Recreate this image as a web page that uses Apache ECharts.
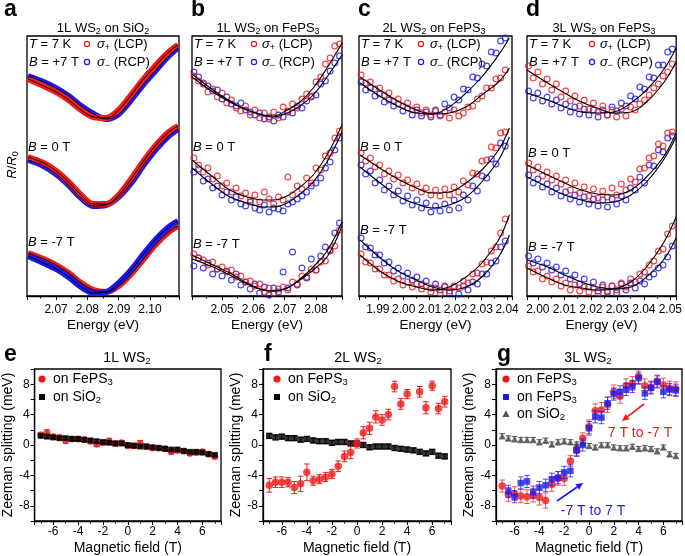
<!DOCTYPE html>
<html><head><meta charset="utf-8">
<script src="https://cdn.jsdelivr.net/npm/echarts/dist/echarts.min.js"></script>
<style>html,body{margin:0;padding:0;background:#fff}#c{width:685px;height:556px}</style>
</head><body><div id="c"></div>
<script>
// ---------------- DATA ----------------
// Panel a (1L WS2 on SiO2): dense spectra, values in arbitrary offset units
const aE = [2.061,2.066,2.070,2.074,2.078,2.082,2.086,2.090,2.094,2.098,2.102,2.106,2.109];
const aRed_p7  = [217,210,204,196,186,179,178,186,201,217,231,244,251];
const aBlue_p7 = [220,214,208,200,190,182,177,182,196,212,226,240,248];
const aRed_0   = [139,133,125,114,101,92,92,101,117,135,151,164,170];
const aBlue_0  = [136,130,122,111,98,90,91,99,113,131,147,160,167];
const aRed_m7  = [43,37,31,23,13,6,4,10,22,37,52,64,70];
const aBlue_m7 = [40,33,27,19,9,3,4,13,26,42,57,69,75];

// Panel b (1L WS2 on FePS3)
const bE = [2.0410,2.0425,2.0440,2.0455,2.0470,2.0485,2.0500,2.0515,2.0530,2.0545,2.0560,2.0575,2.0590,2.0605,2.0620,2.0635,2.0650,2.0665,2.0680,2.0695,2.0710,2.0725,2.0740,2.0755,2.0770,2.0785,2.0800,2.0815,2.0830,2.0845,2.0860,2.0875];
const bRed_p7  = [220,215,212,204,207,199,203,193,196,188,185,190,181,186,178,183,177,184,178,189,185,192,188,197,202,200,214,219,232,238,250,252];
const bBlue_p7 = [224,219,213,210,205,206,197,199,192,190,193,186,184,181,183,177,179,175,181,179,184,183,190,188,195,199,201,212,215,225,233,240];
const bRed_0   = [138,131,124,128,117,120,110,113,104,108,100,103,96,101,94,104,97,92,99,96,119,101,110,107,118,113,128,126,140,143,158,165];
const bBlue_0  = [124,127,115,117,108,110,101,104,96,99,92,90,94,88,86,91,84,88,87,85,92,94,97,100,104,110,113,118,128,134,146,158];
const bRed_m7  = [42,38,36,31,34,27,29,24,26,19,20,14,15,10,12,4,8,3,7,9,6,14,12,20,19,27,26,34,35,45,50,66];
const bBlue_m7 = [30,38,28,33,22,27,20,25,16,22,11,14,7,12,3,9,1,8,4,24,8,44,11,28,18,37,26,40,49,46,63,73];
const bFitE = [2.0404,2.0471,2.0525,2.0580,2.0631,2.0663,2.0708,2.0749,2.0791,2.0835,2.0883];
const bFitRed_p7  = [219,204,194,186,181,180,186,194,208,228,253];
const bFitBlue_p7 = [222,206,195,186,181,179,183,190,201,219,241];
const bFitRed_0   = [136,119,106,99,96,96,100,109,121,141,171];
const bFitBlue_0  = [128,111,99,93,89,89,93,102,114,134,164];
const bFitRed_m7  = [41,31,23,13,6,5,8,16,26,39,70];
const bFitBlue_m7 = [37,29,21,12,6,5,8,17,29,45,74];

// Panel c (2L WS2 on FePS3)
const cE = [1.9835,1.9853,1.9871,1.9889,1.9907,1.9925,1.9943,1.9961,1.9979,1.9997,2.0015,2.0033,2.0051,2.0069,2.0087,2.0105,2.0123,2.0141,2.0159,2.0177,2.0195,2.0213,2.0231,2.0249,2.0267,2.0285,2.0303,2.0321,2.0339,2.0357,2.0375,2.0393];
const cRed_p7  = [221,213,214,207,208,201,203,195,197,190,193,186,189,183,186,181,185,180,184,178,186,180,183,189,190,197,200,208,208,217,218,226];
const cBlue_p7 = [214,206,208,200,202,194,196,190,192,185,188,181,186,180,184,179,186,181,192,188,199,196,207,206,219,218,232,230,244,243,255,258];
const cRed_0   = [143,135,138,129,131,122,125,117,121,113,116,108,112,104,108,101,106,100,107,101,109,104,115,111,123,122,135,136,149,148,163,164];
const cBlue_0  = [131,122,125,113,116,106,110,101,105,95,100,91,96,88,93,84,90,85,92,86,96,88,101,96,110,105,120,118,137,132,153,150];
const cRed_m7  = [42,34,33,27,27,21,21,15,17,11,14,9,12,7,10,4,8,3,9,5,10,8,15,13,22,23,32,34,45,49,63,77];
const cBlue_m7 = [58,49,48,41,41,33,34,25,28,20,23,16,19,12,15,8,12,6,10,3,9,2,10,6,14,12,22,22,33,35,49,55];
const cFitE = [1.9831,1.9919,1.9984,2.0049,2.0111,2.0176,2.0241,2.0302,2.0367,2.0409];
const cFitRed_p7  = [219,204,194,186,182,183,189,201,214,228];
const cFitBlue_p7 = [213,198,189,183,182,189,203,219,241,258];
const cFitRed_0   = [141,126,116,108,103,104,113,126,146,168];
const cFitBlue_0  = [129,111,99,92,88,91,99,114,136,159];
const cFitRed_m7  = [41,23,14,9,6,9,19,33,56,81];
const cFitBlue_m7 = [56,36,24,16,9,6,9,19,39,61];

// Panel d (3L WS2 on FePS3)
const dE = [1.99650,1.99825,2.00000,2.00175,2.00350,2.00525,2.00700,2.00875,2.01050,2.01225,2.01400,2.01575,2.01750,2.01925,2.02100,2.02275,2.02450,2.02625,2.02800,2.02975,2.03150,2.03325,2.03500,2.03675,2.03850,2.04025,2.04200,2.04375,2.04550,2.04725,2.04900,2.05075];
const dRed_p7  = [230,218,224,212,217,206,212,199,205,195,200,190,196,187,193,184,190,181,186,179,187,180,189,186,192,196,201,208,212,220,224,232];
const dBlue_p7 = [205,198,203,195,199,192,196,188,192,184,189,182,187,181,186,179,186,181,189,185,193,190,200,197,209,207,219,218,231,231,244,247];
const dRed_0   = [133,126,129,120,124,116,120,112,116,106,113,103,109,100,107,98,105,99,108,101,112,106,117,114,127,128,138,140,152,150,163,164];
const dBlue_0  = [121,113,117,109,112,104,108,100,104,97,101,94,99,92,97,90,96,89,97,92,100,96,108,106,119,113,131,130,146,144,158,160];
const dRed_m7  = [30,24,25,17,20,14,17,10,13,6,11,5,9,4,8,3,9,5,10,6,13,9,17,14,22,24,31,35,45,47,62,70];
const dBlue_m7 = [40,33,37,29,33,26,29,21,25,17,21,12,17,9,14,5,11,4,10,3,12,6,13,8,15,12,19,22,28,31,39,50];
const dFitE = [1.9959,2.0037,2.0101,2.0164,2.0224,2.0287,2.0351,2.0410,2.0474,2.0522];
const dFitRed_p7  = [226,213,203,194,188,183,184,194,213,234];
const dFitBlue_p7 = [203,196,189,184,183,184,193,206,226,248];
const dFitRed_0   = [131,121,113,106,102,101,106,119,139,163];
const dFitBlue_0  = [119,109,101,96,93,94,101,114,136,159];
const dFitRed_m7  = [28,18,11,8,6,7,14,29,53,79];
const dFitBlue_m7 = [36,29,21,14,9,7,9,19,36,58];

// Zeeman splitting panels
const FIELD = [-7,-6.5,-6,-5.5,-5,-4.5,-4,-3.5,-3,-2.5,-2,-1.5,-1,-0.5,0,0.5,1,1.5,2,2.5,3,3.5,4,4.5,5,5.5,6,6.5,7];
const eFe    = [1.3,1.6,1.1,1.0,0.6,0.8,0.8,0.7,0.5,0.1,0.3,0.5,0.2,0.3,-0.1,-0.1,0.2,-0.2,-0.4,-0.4,-0.5,-0.9,-0.7,-0.8,-1.1,-1.0,-0.9,-1.2,-1.5];
const eFeErr = [0.3,0.4,0.3,0.3,0.4,0.3,0.3,0.3,0.3,0.3,0.3,0.4,0.3,0.3,0.3,0.3,0.4,0.3,0.3,0.3,0.3,0.3,0.3,0.3,0.3,0.3,0.3,0.3,0.3];
const eSi    = [1.2,1.1,1.0,0.9,0.9,0.8,0.8,0.7,0.6,0.5,0.4,0.3,0.2,0.2,0.0,-0.1,-0.2,-0.2,-0.3,-0.4,-0.5,-0.6,-0.6,-0.8,-0.9,-0.9,-1.0,-1.2,-1.3];
const eSiErr = [0.2,0.2,0.2,0.2,0.2,0.2,0.2,0.2,0.2,0.2,0.2,0.2,0.2,0.2,0.2,0.2,0.2,0.2,0.2,0.2,0.2,0.2,0.2,0.2,0.2,0.2,0.2,0.2,0.2];

const fFeField = [-7,-6.5,-6,-5.5,-5,-4.5,-4,-3.5,-3,-2.5,-2,-1.5,-1,-0.5,0,0.5,1,1.5,2,2.5,3,3.5,4,5,5.5,6,6.5,7];
const fFe    = [-5.3,-4.9,-4.9,-4.9,-5.6,-5.1,-3.6,-4.7,-4.5,-4.2,-3.8,-2.8,-1.5,-1.0,0.2,1.6,2.2,3.7,3.3,4.0,7.7,5.4,6.7,7.0,4.9,7.8,4.8,5.7];
const fFeErr = [0.9,0.7,0.7,0.6,0.8,1.0,1.1,0.6,0.6,0.6,0.6,0.7,0.7,0.8,0.6,0.8,0.8,0.8,0.7,0.7,0.7,0.7,0.6,0.7,0.8,0.6,0.7,0.7];
const fSi    = [1.2,1.0,1.1,0.9,0.9,0.7,0.8,0.6,0.5,0.5,0.3,0.4,0.4,0.2,0.2,0.0,-0.3,-0.2,-0.2,-0.2,-0.4,-0.5,-0.6,-0.7,-0.9,-1.1,-0.9,-1.4,-1.5];
const fSiErr = [0.3,0.3,0.3,0.3,0.3,0.3,0.3,0.3,0.3,0.3,0.3,0.3,0.3,0.3,0.3,0.3,0.3,0.3,0.3,0.3,0.3,0.3,0.3,0.3,0.3,0.3,0.3,0.3,0.3];

const gDown    = [-5.4,-6.5,-6.4,-6.7,-6.8,-6.6,-6.9,-7.3,-5.2,-4.4,-4.4,-2.1,-0.7,0.9,2.4,4.5,4.6,5.3,7.0,6.4,7.8,8.1,9.0,7.8,7.6,8.4,7.9,7.5,7.4];
const gDownErr = [0.8,0.9,0.9,0.9,0.9,0.9,1.0,1.0,0.9,0.9,0.9,0.7,0.7,0.7,0.9,0.9,1.0,1.0,0.9,0.9,0.9,0.9,0.9,0.9,0.8,0.8,0.9,0.9,0.9];
const gUpField = [-6.5,-6,-5.5,-5,-4.5,-4,-3.5,-3,-2.5,-2,-1.5,-1,-0.5,0,0.5,1,1.5,2,2.5,3,3.5,4,4.5,5,5.5,6,6.5,7];
const gUp      = [-6.1,-6.8,-5.0,-4.8,-6.2,-5.6,-5.3,-4.5,-4.3,-3.6,-3.4,-0.7,0.0,2.2,3.7,3.6,5.5,6.7,7.0,7.3,7.7,8.8,6.8,7.5,8.3,7.0,7.3,7.2];
const gUpErr   = [0.8,0.8,0.8,0.8,0.8,0.8,0.8,0.8,0.8,0.8,0.8,0.8,0.8,0.9,0.8,0.8,0.8,0.8,0.8,0.8,0.8,0.8,0.8,0.8,0.8,0.8,0.8,0.8];
const gSi      = [1.2,0.9,0.8,0.7,0.7,0.7,0.4,0.6,0.1,0.4,0.5,0.4,0.1,0.3,-0.1,-0.3,0.0,0.0,-0.3,-0.4,-0.4,-0.2,-0.5,-0.4,-0.5,-0.8,-0.3,-1.2,-1.4];
const gSiErr   = [0.3,0.3,0.3,0.3,0.3,0.3,0.3,0.3,0.3,0.3,0.3,0.3,0.3,0.3,0.3,0.3,0.3,0.3,0.3,0.3,0.3,0.3,0.3,0.3,0.3,0.3,0.3,0.3,0.3];

const E_RANGES = [[2.0607,2.1093],[2.0404,2.0883],[1.9827,2.0419],[1.9959,2.0522]];
const B_RANGE = [-7.5, 7.5];
const Z_RANGE = [-10, 10];

// ---------------- CHART ----------------
const FONT = "'Liberation Sans', Arial, Helvetica, sans-serif";
const RED = '#f01a1a', BLUE = '#1a1af0', GRAY = '#555555';
const chart = echarts.init(document.getElementById('c'), null, {renderer:'canvas'});

const gridPos = [
  {left:27, top:36, width:152, height:260},
  {left:192, top:36, width:150, height:260},
  {left:359, top:36, width:153, height:260},
  {left:527, top:36, width:151, height:260},
  {left:31, top:369, width:190, height:152},
  {left:263, top:369, width:188, height:152},
  {left:496, top:369, width:187, height:152}
];
const grids = gridPos.map(g => Object.assign({show:true, borderColor:'#000', borderWidth:1.3, backgroundColor:'rgba(0,0,0,0)'}, g));

const lblStyle = {color:'#000', fontSize:12, fontFamily:FONT};
const xAxes = [], yAxes = [];
E_RANGES.forEach((r, i) => {
  xAxes.push({type:'value', gridIndex:i, min:r[0], max:r[1], splitNumber:5,
    name:'Energy (eV)', nameLocation:'middle', nameGap:22,
    nameTextStyle:{color:'#000', fontSize:13.5, fontFamily:FONT},
    axisLine:{onZero:false, lineStyle:{color:'#000', width:1.3}},
    axisTick:{length:4, lineStyle:{color:'#000'}},
    minorTick:{show:true, splitNumber:2, length:2.5, lineStyle:{color:'#000'}},
    splitLine:{show:false}, minorSplitLine:{show:false},
    axisLabel:Object.assign({margin:8, formatter: v => Math.abs(v*100 - Math.round(v*100)) < 1e-6 ? v.toFixed(2) : ''}, lblStyle)});
  yAxes.push({type:'value', gridIndex:i, min:0, max:260, show:false});
});
for (let i = 4; i < 7; i++) {
  xAxes.push({type:'value', gridIndex:i, min:B_RANGE[0], max:B_RANGE[1], splitNumber:7,
    name:'Magnetic field (T)', nameLocation:'middle', nameGap:20,
    nameTextStyle:{color:'#000', fontSize:14, fontFamily:FONT},
    axisLine:{onZero:false, lineStyle:{color:'#000', width:1.3}},
    axisTick:{length:4, lineStyle:{color:'#000'}},
    minorTick:{show:true, splitNumber:2, length:2.5, lineStyle:{color:'#000'}},
    splitLine:{show:false}, minorSplitLine:{show:false},
    axisLabel:Object.assign({margin:5, formatter: v => Math.abs(v - Math.round(v)) < 1e-9 ? String(Math.round(v)) : ''}, lblStyle)});
  yAxes.push({type:'value', gridIndex:i, min:Z_RANGE[0], max:Z_RANGE[1], interval:2,
    name:'Zeeman splitting (meV)', nameLocation:'middle', nameGap:18, nameRotate:90,
    nameTextStyle:{color:'#000', fontSize:14, fontFamily:FONT},
    axisLine:{onZero:false, lineStyle:{color:'#000', width:1.3}},
    axisTick:{length:4, lineStyle:{color:'#000'}},
    splitLine:{show:false},
    axisLabel:Object.assign({margin:5, formatter: v => (Math.round(v) % 4 === 0) ? String(Math.round(v)) : ''}, lblStyle)});
}

const pairs = (xs, ys) => xs.map((x, i) => [x, ys[i]]);
const series = [];
function band(g, xs, ys, color) {
  series.push({type:'line', xAxisIndex:g, yAxisIndex:g, data:pairs(xs, ys), smooth:0.35, symbol:'none',
    lineStyle:{color, width:6}, z:2, silent:true});
}
function fit(g, xs, ys, w) {
  series.push({type:'line', xAxisIndex:g, yAxisIndex:g, data:pairs(xs, ys), smooth:0.4, symbol:'none',
    lineStyle:{color:'#000', width:w || 1.1}, z:5, silent:true});
}
function pts(g, xs, ys, color) {
  series.push({type:'scatter', xAxisIndex:g, yAxisIndex:g, data:pairs(xs, ys), symbol:'circle', symbolSize:5.8,
    itemStyle:{color:'rgba(0,0,0,0)', borderColor:color, borderWidth:1.2}, z:3, silent:true});
}
function errBars(g, xs, ys, errs, color, z) {
  series.push({type:'custom', xAxisIndex:g, yAxisIndex:g, z, silent:true,
    data: xs.map((x, i) => [x, ys[i] - errs[i], ys[i] + errs[i]]),
    encode:{x:0, y:[1, 2]},
    renderItem(params, api) {
      const x = api.value(0);
      const lo = api.coord([x, api.value(1)]), hi = api.coord([x, api.value(2)]);
      const w = 2.8, st = {stroke:color, lineWidth:1};
      return {type:'group', children:[
        {type:'line', shape:{x1:lo[0], y1:lo[1], x2:hi[0], y2:hi[1]}, style:st},
        {type:'line', shape:{x1:lo[0]-w, y1:lo[1], x2:lo[0]+w, y2:lo[1]}, style:st},
        {type:'line', shape:{x1:hi[0]-w, y1:hi[1], x2:hi[0]+w, y2:hi[1]}, style:st}]};
    }});
}
function marks(g, xs, ys, symbol, size, color, z) {
  series.push({type:'scatter', xAxisIndex:g, yAxisIndex:g, data:pairs(xs, ys), symbol, symbolSize:size,
    itemStyle:{color}, z, silent:true});
}

// panel a
band(0, aE, aBlue_p7, BLUE); band(0, aE, aRed_p7, RED);
band(0, aE, aBlue_0, BLUE);  band(0, aE, aRed_0, RED);
band(0, aE, aRed_m7, RED);   band(0, aE, aBlue_m7, BLUE);
[aRed_p7, aBlue_p7, aRed_0, aBlue_0, aRed_m7, aBlue_m7].forEach(ys => fit(0, aE, ys, 0.9));
// panels b-d
const spectra = [
  [1, bE, [bRed_p7, bRed_0, bRed_m7], [bBlue_p7, bBlue_0, bBlue_m7], bFitE, [bFitRed_p7, bFitBlue_p7, bFitRed_0, bFitBlue_0, bFitRed_m7, bFitBlue_m7]],
  [2, cE, [cRed_p7, cRed_0, cRed_m7], [cBlue_p7, cBlue_0, cBlue_m7], cFitE, [cFitRed_p7, cFitBlue_p7, cFitRed_0, cFitBlue_0, cFitRed_m7, cFitBlue_m7]],
  [3, dE, [dRed_p7, dRed_0, dRed_m7], [dBlue_p7, dBlue_0, dBlue_m7], dFitE, [dFitRed_p7, dFitBlue_p7, dFitRed_0, dFitBlue_0, dFitRed_m7, dFitBlue_m7]]
];
spectra.forEach(([g, xs, reds, blues, fe, fits]) => {
  blues.forEach(ys => pts(g, xs, ys, BLUE));
  reds.forEach(ys => pts(g, xs, ys, RED));
  fits.forEach(ys => fit(g, fe, ys));
});
// panel e
errBars(4, FIELD, eFe, eFeErr, RED, 3); marks(4, FIELD, eFe, 'circle', 7, RED, 4);
errBars(4, FIELD, eSi, eSiErr, '#000', 5); marks(4, FIELD, eSi, 'rect', 6, '#000', 6);
// panel f
errBars(5, FIELD, fSi, fSiErr, '#000', 3); marks(5, FIELD, fSi, 'rect', 6.5, '#000', 4);
errBars(5, fFeField, fFe, fFeErr, RED, 5); marks(5, fFeField, fFe, 'circle', 7.5, RED, 6);
// panel g
errBars(6, FIELD, gSi, gSiErr, GRAY, 3); marks(6, FIELD, gSi, 'triangle', 7, GRAY, 4);
errBars(6, FIELD, gDown, gDownErr, 'rgba(240,26,26,0.75)', 5); marks(6, FIELD, gDown, 'circle', 7.5, RED, 6);
errBars(6, gUpField, gUp, gUpErr, 'rgba(26,26,240,0.75)', 7); marks(6, gUpField, gUp, 'rect', 6.5, BLUE, 8);

// ---------------- TEXT / ANNOTATIONS ----------------
const rich = {
  n:{fontSize:13, lineHeight:16, fontFamily:FONT, color:'#000'},
  i:{fontSize:13, lineHeight:16, fontFamily:FONT, fontStyle:'italic', color:'#000'},
  s:{fontSize:9, lineHeight:9, fontFamily:FONT, verticalAlign:'bottom', color:'#000'},
  N:{fontSize:14, lineHeight:17, fontFamily:FONT, color:'#000'},
  S:{fontSize:9.5, lineHeight:9, fontFamily:FONT, verticalAlign:'bottom', color:'#000'}
};
const G = [];
function T(x, y, text, align, extra) {
  G.push(Object.assign({type:'text', x, y, silent:true,
    style:{text, rich, align:align || 'left', verticalAlign:'middle', fill:'#000', font:'13px ' + FONT}}, extra || {}));
}
function letter(x, y, t) {
  G.push({type:'text', x, y, silent:true, style:{text:t, font:'bold 23px ' + FONT, fill:'#000', align:'left', verticalAlign:'middle'}});
}
function openCircle(cx, cy, color) {
  G.push({type:'circle', silent:true, shape:{cx, cy, r:2.6}, style:{fill:'none', stroke:color, lineWidth:1.2}});
}
// top row
letter(4, 10, 'a'); letter(191, 10, 'b'); letter(358, 10, 'c'); letter(526, 10, 'd');
T(103, 28, '{n|1L WS}{s|2}{n| on SiO}{s|2}', 'center');
T(268, 28, '{n|1L WS}{s|2}{n| on FePS}{s|3}', 'center');
T(434, 28, '{n|2L WS}{s|2}{n| on FePS}{s|3}', 'center');
T(604, 28, '{n|3L WS}{s|2}{n| on FePS}{s|3}', 'center');
const topLab = [
  [29, 87, 97, 147, 242],
  [194, 254, 262, 147, 244],
  [361, 421, 430, 147, 230],
  [529, 592, 600, 153, 247]
];
topLab.forEach(([tx, cx, lx, y0, ym]) => {
  T(tx, 44, '{i|T}{n| = 7 K}');
  T(tx, 62, '{i|B}{n| = +7 T}');
  T(tx - 1, y0, '{i|B}{n| = 0 T}');
  T(tx - 1, ym, '{i|B}{n| = -7 T}');
  openCircle(cx, 44, RED); openCircle(cx, 62, BLUE);
  T(lx, 44, '{i|σ}{s|+}{n| (LCP)}');
  T(lx, 62, '{i|σ}{s|−}{n| (RCP)}');
});
T(12, 165, '{i|R}{n|/}{i|R}{s|0}', 'center', {rotation:Math.PI / 2});

// bottom row
letter(4, 355, 'e'); letter(264, 355, 'f'); letter(497, 355, 'g');
T(127, 358, '{N|1L WS}{S|2}', 'center');
T(358, 358, '{N|2L WS}{S|2}', 'center');
T(588, 358, '{N|3L WS}{S|2}', 'center');
function legDot(cx, cy, color) { G.push({type:'circle', silent:true, shape:{cx, cy, r:3.6}, style:{fill:color}}); }
function legSq(cx, cy, color) { G.push({type:'rect', silent:true, shape:{x:cx - 3, y:cy - 3, width:6, height:6}, style:{fill:color}}); }
function legTri(cx, cy, color) { G.push({type:'polygon', silent:true, shape:{points:[[cx, cy - 3.8], [cx - 3.6, cy + 3], [cx + 3.6, cy + 3]]}, style:{fill:color}}); }
legDot(42, 379, RED); T(53, 379, '{N|on FePS}{S|3}');
legSq(42, 397, '#000'); T(53, 397, '{N|on SiO}{S|2}');
legDot(277, 379, RED); T(288, 379, '{N|on FePS}{S|3}');
legSq(277, 397, '#000'); T(288, 397, '{N|on SiO}{S|2}');
legDot(506, 379, RED); T(517, 379, '{N|on FePS}{S|3}');
legSq(506, 397, BLUE); T(517, 397, '{N|on FePS}{S|3}');
legTri(506, 414, GRAY); T(517, 414, '{N|on SiO}{S|2}');

function arrow(x1, y1, x2, y2, color) {
  const a = Math.atan2(y2 - y1, x2 - x1), L = 7, W = 3.3;
  const bx = x2 - L * Math.cos(a), by = y2 - L * Math.sin(a);
  const px = -Math.sin(a) * W, py = Math.cos(a) * W;
  G.push({type:'line', silent:true, shape:{x1, y1, x2:bx, y2:by}, style:{stroke:color, lineWidth:1.6}});
  G.push({type:'polygon', silent:true, shape:{points:[[x2, y2], [bx + px, by + py], [bx - px, by - py]]}, style:{fill:color}});
}
arrow(644, 404, 622, 421, RED);
arrow(557, 501, 583, 483, BLUE);
G.push({type:'text', x:640, y:433, silent:true, style:{text:'7 T to -7 T', font:'14px ' + FONT, fill:RED, align:'center', verticalAlign:'middle'}});
G.push({type:'text', x:593, y:511, silent:true, style:{text:'-7 T to 7 T', font:'14px ' + FONT, fill:BLUE, align:'center', verticalAlign:'middle'}});

chart.setOption({
  animation:false,
  backgroundColor:'#fff',
  textStyle:{fontFamily:FONT},
  grid:grids, xAxis:xAxes, yAxis:yAxes, series,
  graphic:{elements:G}
});
</script></body></html>
